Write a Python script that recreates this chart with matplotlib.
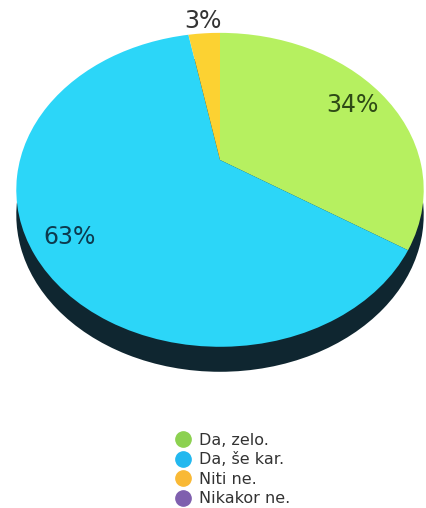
import numpy as np
import matplotlib.pyplot as plt
from matplotlib.lines import Line2D
from matplotlib.transforms import Transform, Affine2D

labels = ["Da, zelo.", "Da, še kar.", "Niti ne.", "Nikakor ne."]
shares = [34, 63, 3, 0]
top_colors = ["#b6f060", "#2cd6f8", "#fcd232", "#8a64b4"]
legend_colors = ["#8cd150", "#22b8ef", "#f9b935", "#7f5fae"]
pct_colors = ["#2e4a16", "#0d3a4e", "#333333", "#333333"]
pct_dist = [0.81, 0.83, 1.12, 1.0]
side_color = "#0f2630"


class Tilt(Transform):
    """Perspective view of the unit disc lying on a table, far edge at the top."""
    input_dims = output_dims = 2

    def __init__(self, a, s, p):
        super().__init__()
        self.a, self.s, self.p = a, s, p

    def transform_non_affine(self, values):
        v = np.asarray(values, dtype=float)
        w = 1 + self.p * v[:, 1]
        return np.column_stack([self.a * v[:, 0] / w, self.s * v[:, 1] / w])


W, H = 427, 508
fig = plt.figure(figsize=(W / 100, H / 100), dpi=100)
ax = fig.add_axes([0, 0, 1, 1])

# pie centre in pixels (from top-left) and disc thickness
vx, vy, depth = 220, 160, 25
tilt = Tilt(200.0, 151.3, 0.19)
top_tr = tilt + Affine2D().translate(vx, H - vy)
side_tr = tilt + Affine2D().translate(vx, H - vy - depth)

vals = [v for v in shares if v > 0]
cols = [c for v, c in zip(shares, top_colors) if v > 0]

side, _ = ax.pie([1], colors=[side_color], wedgeprops=dict(linewidth=0))
for w in side:
    w.set_transform(side_tr + ax.transData)

wedges, _ = ax.pie(vals, colors=cols, startangle=90, counterclock=False,
                   wedgeprops=dict(linewidth=0))
for w in wedges:
    w.set_transform(top_tr + ax.transData)

ax.set_aspect("auto")
ax.set_xlim(0, W)
ax.set_ylim(0, H)
ax.axis("off")

k = 0
for v, col, d in zip(shares, pct_colors, pct_dist):
    if v == 0:
        continue
    w = wedges[k]
    mid = np.deg2rad((w.theta1 + w.theta2) / 2)
    px, py = top_tr.transform([[d * np.cos(mid), d * np.sin(mid)]])[0]
    ax.text(px, py, f"{v}%", color=col, fontsize=17, ha="center", va="center")
    k += 1

handles = [Line2D([], [], marker="o", linestyle="", markersize=11,
                  markerfacecolor=c, markeredgecolor=c) for c in legend_colors]
fig.legend(handles, labels, loc="upper left", bbox_to_anchor=(166 / W, 1 - 425 / H),
           frameon=False, fontsize=11.5, labelcolor="#333333",
           handletextpad=0.45, labelspacing=0.28, borderpad=0, handlelength=1.1)

fig.savefig("out.png", dpi=100)
